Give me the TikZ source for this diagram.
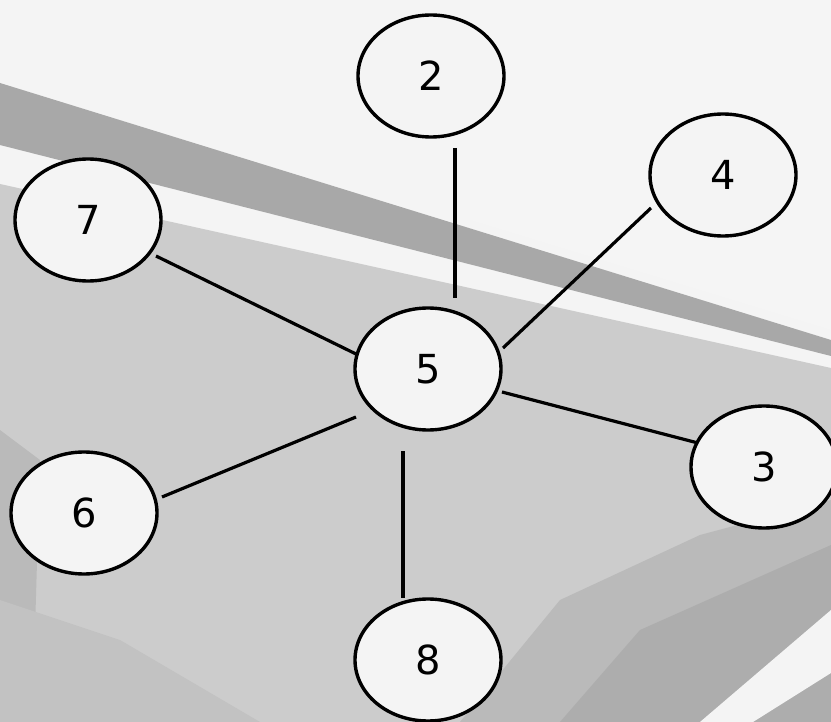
\documentclass[tikz,border=0pt]{standalone}
\usepackage{fontspec}
\newfontfamily\digitfont{DejaVu Sans}
\usetikzlibrary{shapes.geometric,calc}
\definecolor{paper}{HTML}{F4F4F4}
\tikzset{
  circ/.style={ellipse,draw=black,line width=3.4pt,fill=paper,
    minimum width=146pt,minimum height=122pt,inner sep=0pt,
    font=\digitfont\fontsize{40}{40}\selectfont},
  link/.style={line width=3.2pt,draw=black},
  band/.style={fill=gray!68},
  midgray/.style={fill=gray!40},
  darkgray/.style={fill=gray!54},
  darkergray/.style={fill=gray!64}
}
\begin{document}
\begin{tikzpicture}[x=1pt,y=-1pt]
\useasboundingbox (0,0) rectangle (831,722);
\clip (0,0) rectangle (831,722);
\fill[paper] (0,0) rectangle (831,722);
% faint speckled area upper right
\fill[gray!8] (470,0) -- (831,0) -- (831,330) -- (470,220) -- cycle;
% dark diagonal band
\fill[band] (0,83) -- (831,340) -- (831,356) -- (0,145) -- cycle;
% medium gray region
\fill[midgray] (0,184) -- (831,368) -- (831,722) -- (0,722) -- cycle;
% darker lower right
\fill[darkgray] (460,722) -- (560,600) -- (700,535) -- (831,500) -- (831,722) -- cycle;
\fill[darkergray] (560,722) -- (640,630) -- (831,545) -- (831,722) -- cycle;
% white stripe
\fill[paper] (700,722) -- (831,610) -- (831,673) -- (753,722) -- cycle;
% darker left edge
\fill[darkgray] (0,430) -- (40,460) -- (35,630) -- (0,660) -- cycle;
\fill[gray!48] (0,600) -- (120,640) -- (260,722) -- (0,722) -- cycle;

% nodes
\node[circ] (n2) at (431,76) {2};
\node[circ] (n4) at (723,175) {4};
\node[circ] (n7) at (88,220) {7};
\node[circ] (n5) at (428,369) {5};
\node[circ] (n3) at (764,467) {3};
\node[circ] (n6) at (84,513) {6};
\node[circ] (n8) at (428,660) {8};

% connectors
\draw[link] ($(n2)+(24,72)$) -- ($(n5)+(27,-71)$);
\draw[link] ($(n4)+(-72,33)$) -- ($(n5)+(75,-21)$);
\draw[link] ($(n7)+(68,36)$) -- ($(n5)+(-72,-15)$);
\draw[link] ($(n5)+(74,23)$) -- ($(n3)+(-66,-24)$);
\draw[link] ($(n5)+(-72,48)$) -- ($(n6)+(78,-16)$);
\draw[link] ($(n5)+(-25,82)$) -- ($(n8)+(-25,-62)$);
\end{tikzpicture}
\end{document}
